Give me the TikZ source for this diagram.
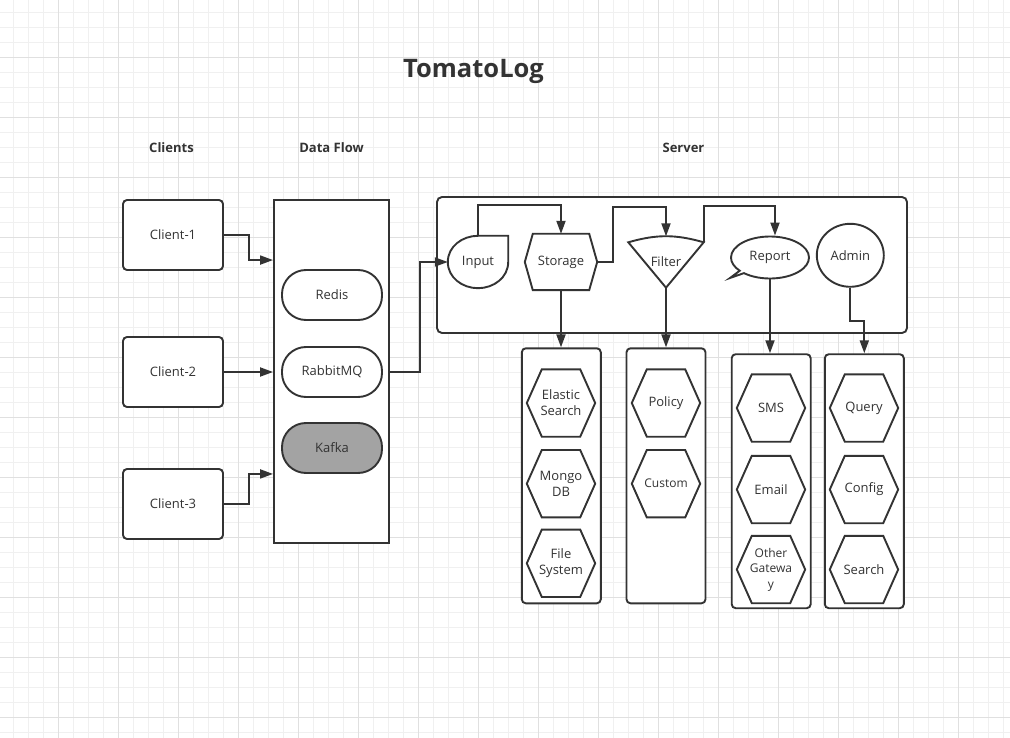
\documentclass[tikz,border=0pt]{standalone}
\usepackage{fontspec}
\setmainfont{Open Sans}
\usetikzlibrary{arrows.meta, calc, shapes.geometric, shapes.callouts}
\definecolor{ink}{HTML}{333333}
\definecolor{gridminor}{HTML}{F0F0F0}
\definecolor{gridmajor}{HTML}{E0E0E0}
\definecolor{kafkagray}{HTML}{A3A3A3}
\tikzset{
  ink line/.style = {draw=ink, line width=1.9pt},
  label font/.style = {text=ink, font=\fontsize{13}{16}\selectfont},
  heading/.style = {text=ink, font=\bfseries\fontsize{13}{16}\selectfont, anchor=base, inner sep=0pt},
  client/.style = {ink line, label font, fill=white, rounded corners=4pt, minimum width=100pt, minimum height=70pt},
  panel/.style = {ink line, fill=white},
  group/.style = {ink line, fill=white, rounded corners=4pt, minimum width=79pt},
  queue/.style = {ink line, label font, fill=white, rounded corners=24pt, minimum width=100pt, minimum height=50pt},
  plain/.style = {label font, inner sep=0pt, align=center},
  hexcell/.style = {plain, minimum width=68pt, minimum height=67pt},
  flowarrow/.style = {ink line, -{Triangle[length=13pt, width=9pt]}}
}

\begin{document}
\begin{tikzpicture}[x=1pt, y=-1pt]
  \useasboundingbox (0,0) rectangle (1010,738);
  \fill[white] (0,0) rectangle (1010,738);
  % grid paper
  \foreach \i in {0,...,66}
    \draw[gridminor, line width=0.8pt] ({13.3+15*\i},0) -- ({13.3+15*\i},738);
  \foreach \i in {0,...,48}
    \draw[gridminor, line width=0.8pt] (0,{12.3+15*\i}) -- (1010,{12.3+15*\i});
  \foreach \i in {0,...,15}
    \draw[gridmajor, line width=0.8pt] ({58.3+60*\i},0) -- ({58.3+60*\i},738);
  \foreach \i in {0,...,11}
    \draw[gridmajor, line width=0.8pt] (0,{57.3+60*\i}) -- (1010,{57.3+60*\i});

  % titles
  \node[heading, font=\bfseries\fontsize{25.5}{30}\selectfont] (title) at (473.5,78) {TomatoLog};
  \node[heading] (hclients) at (171.5,153) {Clients};
  \node[heading] (hflow) at (331.5,153) {Data Flow};
  \node[heading] (hserver) at (683.5,153) {Server};

  % clients
  \node[client] (c1) at (173,235) {Client-1};
  \node[client] (c2) at (173,372) {Client-2};
  \node[client] (c3) at (173,504) {Client-3};

  % data flow
  \node[panel, minimum width=115pt, minimum height=343pt] (flow) at (331.5,371.5) {};
  \node[queue] (redis) at (332,295) {Redis};
  \node[queue] (rabbit) at (332,372) {RabbitMQ};
  \node[queue, fill=kafkagray] (kafka) at (332,448) {Kafka};

  % server
  \node[panel, rounded corners=5pt, minimum width=470pt, minimum height=136pt] (server) at (672,265) {};
  \node[plain, minimum width=60pt, minimum height=52pt] (input) at (478,262) {Input};
  \draw[ink line] (input.north) -- (input.north east) -- (input.east)
    to[out=-90,in=0] (input.south) to[out=180,in=-90] (input.west)
    to[out=90,in=180] (input.north) -- cycle;
  \node[hexcell, minimum width=72pt, minimum height=56pt] (storage) at (561,262) {Storage};
  \node[plain, minimum width=75pt, minimum height=51pt] (filter) at (666,262) {Filter};
  \draw[ink line] ([yshift=-6pt]filter.north west) to[bend left=16] ([yshift=-6pt]filter.north east)
    -- (filter.south) -- cycle;
  \node[ink line, label font, ellipse callout, fill=white, minimum width=78pt, minimum height=42pt,
    inner sep=0pt, callout absolute pointer={(730,278)}, callout pointer arc=9] (report) at (770,257.5) {Report};
  \node[ink line, label font, ellipse, minimum width=67pt, minimum height=63pt, inner sep=0pt] (admin) at (850.3,255.3) {Admin};

  % groups
  \node[group, minimum height=255pt] (grp1) at (561.3,475.8) {};
  \node[group, minimum height=255pt] (grp2) at (666,475.8) {};
  \node[group, minimum height=254pt] (grp3) at (771.2,481.2) {};
  \node[group, minimum height=254pt] (grp4) at (864.3,481.2) {};

  \node[hexcell] (es) at (561,403) {Elastic\\Search};
  \node[hexcell] (mongo) at (561,483.7) {Mongo\\DB};
  \node[hexcell] (fs) at (561,563.3) {File\\System};
  \node[hexcell] (policy) at (666,403) {Policy};
  \node[hexcell, font=\fontsize{12}{15}\selectfont] (custom) at (666,483.7) {Custom};
  \node[hexcell] (sms) at (771,408) {SMS};
  \node[hexcell] (email) at (771,489.5) {Email};
  \node[hexcell, font=\fontsize{12}{15.5}\selectfont] (other) at (771,569.5) {Other\\Gatewa\\y};
  \node[hexcell] (query) at (864,408) {Query};
  \node[hexcell] (config) at (864,489.5) {Config};
  \node[hexcell] (search) at (864,569.5) {Search};

  \foreach \n/\t in {storage/8pt, es/15pt, mongo/15pt, fs/15pt, policy/15pt, custom/15pt,
                     sms/15pt, email/15pt, other/15pt, query/15pt, config/15pt, search/15pt}
    \draw[ink line] (\n.west) -- ([xshift=\t]\n.north west) -- ([xshift=-\t]\n.north east)
      -- (\n.east) -- ([xshift=-\t]\n.south east) -- ([xshift=\t]\n.south west) -- cycle;

  % connectors
  \draw[flowarrow] (c1.east) -- ++(25.3,0) |- ([yshift=-61pt]flow.north west);
  \draw[flowarrow] (c2.east) -- (c2.east -| flow.west);
  \draw[flowarrow] (c3.east) -- ++(25.3,0) |- ([yshift=70pt]flow.south west);
  \draw[flowarrow] (rabbit -| flow.east) -- ++(30,0) |- (input.west);
  \draw[flowarrow] (input.north) -- ++(0,-31) -| (storage.north);
  \draw[flowarrow] (storage.east) -- ++(15.6,0) -- ++(0,-55.3) -| (filter.north);
  \draw[flowarrow] ([yshift=-6pt]filter.north east) -- ++(0,-36) -| ([xshift=5pt]report.north);
  \draw[flowarrow] (storage.south) -- (storage.south |- grp1.north);
  \draw[flowarrow] (filter.south) -- (grp2.north);
  \draw[flowarrow] (report.south) -- (report.south |- grp3.north);
  \draw[flowarrow] (admin.south) -- ++(0,33.3) -| (grp4.north);
\end{tikzpicture}
\end{document}
